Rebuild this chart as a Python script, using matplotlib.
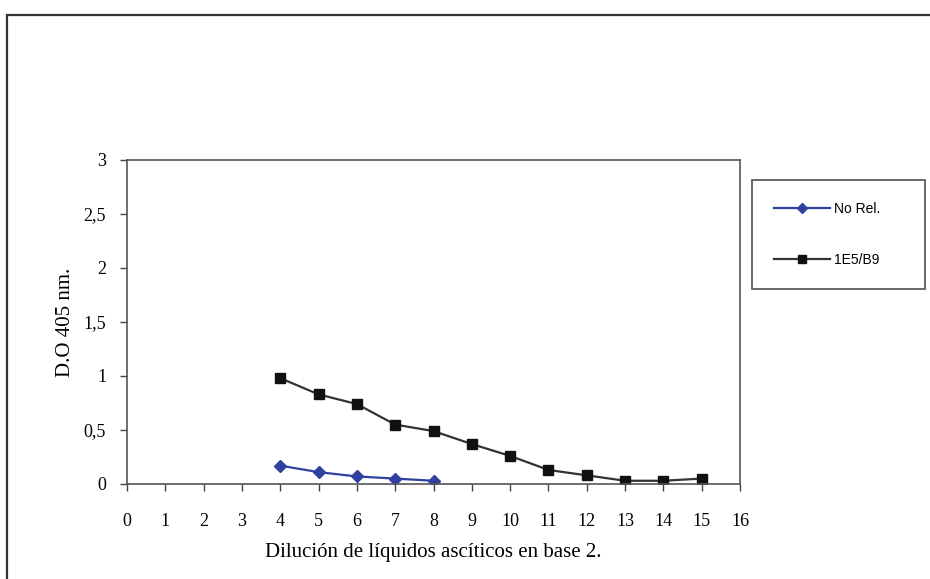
import matplotlib
matplotlib.use("Agg")
import matplotlib.pyplot as plt
from matplotlib.patches import Rectangle

x_norel = [4, 5, 6, 7, 8]
y_norel = [0.17, 0.11, 0.07, 0.05, 0.03]
x_1e5 = [4, 5, 6, 7, 8, 9, 10, 11, 12, 13, 14, 15]
y_1e5 = [0.98, 0.83, 0.74, 0.55, 0.49, 0.37, 0.26, 0.13, 0.08, 0.03, 0.03, 0.05]
xticks = list(range(0, 17))
yticks = [0, 0.5, 1, 1.5, 2, 2.5, 3]
ytick_labels = ["0", "0,5", "1", "1,5", "2", "2,5", "3"]

serif = ["Liberation Serif", "DejaVu Serif"]

fig = plt.figure(figsize=(9.3, 5.79), dpi=100)
fig.patch.set_facecolor("white")

# outer frame
fig.patches.append(Rectangle((7/930, -0.05), 1.0, 1 - 15/579 + 0.05,
                             transform=fig.transFigure, fill=False,
                             edgecolor="#333333", linewidth=1.6))

ax = fig.add_axes([127/930, 1 - 484/579, (740 - 127)/930, (484 - 160)/579])
l1, = ax.plot(x_norel, y_norel, color="#3040a0", marker="D", markersize=6,
              linewidth=1.6, label="No Rel.")
l2, = ax.plot(x_1e5, y_1e5, color="#333333", marker="s", markersize=7,
              markerfacecolor="#111111", markeredgecolor="#111111",
              linewidth=1.6, label="1E5/B9")
ax.set_xlim(0, 16)
ax.set_ylim(0, 3)
ax.set_xticks(xticks)
ax.set_xticklabels([str(t) for t in xticks], fontfamily=serif, fontsize=13)
ax.set_yticks(yticks)
ax.set_yticklabels(ytick_labels, fontfamily=serif, fontsize=13)
ax.tick_params(direction="out", length=5, width=1, color="#444444")
ax.tick_params(axis="x", pad=16)
ax.tick_params(axis="y", pad=10)
for s in ax.spines.values():
    s.set_color("#555555")
    s.set_linewidth(1.2)
ax.set_xlabel("Dilución de líquidos ascíticos en base 2.", fontfamily=serif,
              fontsize=15, labelpad=9)
ax.set_ylabel("D.O 405 nm.", fontfamily=serif, fontsize=15, labelpad=6)

leg = fig.legend(handles=[l1, l2], loc="upper left",
                 bbox_to_anchor=(752/930, 1 - 288/579, 173/930, 108/579),
                 mode="expand",
                 frameon=True, fancybox=False, edgecolor="#333333",
                 prop={"family": ["Liberation Sans", "DejaVu Sans"], "size": 10},
                 labelspacing=2.65, handlelength=4.0, borderpad=1.6,
                 borderaxespad=0, markerscale=0.85, handletextpad=0.3)
leg.get_frame().set_linewidth(1.3)

fig.savefig("out.png", dpi=100, facecolor="white")
